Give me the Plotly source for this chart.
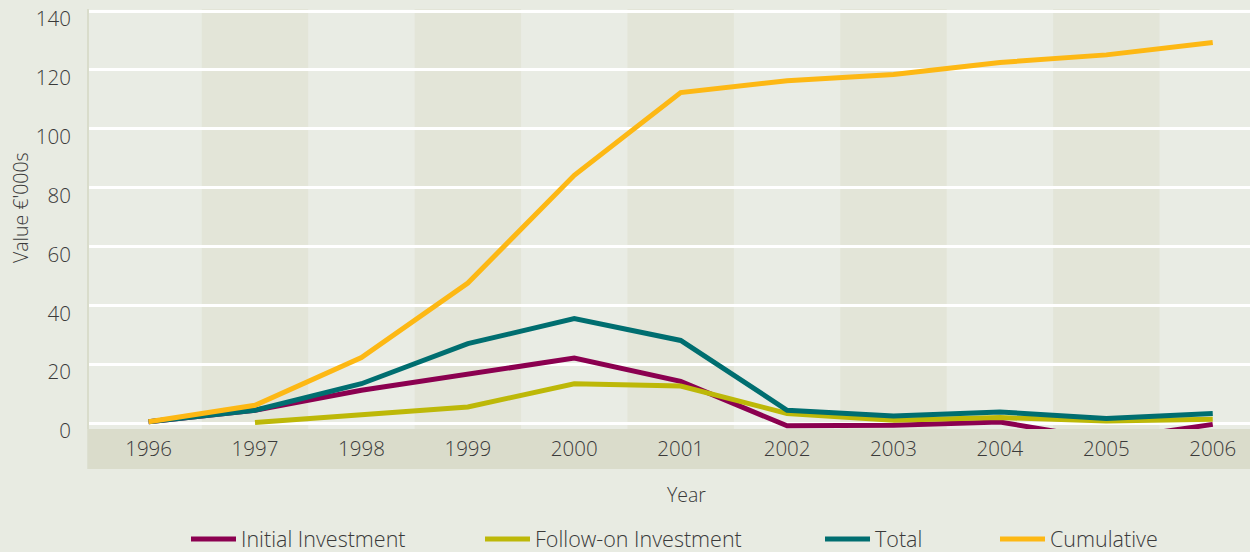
import plotly.graph_objects as go

years = [1996, 1997, 1998, 1999, 2000, 2001, 2002, 2003, 2004, 2005, 2006]
initial = [0.5, 4.4, 11.2, 16.6, 22.1, 14.2, -0.9, -0.7, 0.4, -5.7, -0.4]
follow_on = [None, 0.2, 2.7, 5.5, 13.4, 12.6, 3.3, 1.0, 1.9, 0.7, 1.3]
total = [0.5, 4.4, 13.4, 27.0, 35.5, 28.1, 4.4, 2.4, 3.8, 1.6, 3.3]
cumulative = [0.5, 6.1, 22.3, 47.6, 84.2, 112.3, 116.3, 118.4, 122.5, 125.1, 129.3]

series_names = ["Initial Investment", "Follow-on Investment", "Total", "Cumulative"]
series_values = [initial, follow_on, total, cumulative]
series_colors = ["#8b0050", "#bdb808", "#006e70", "#fdb814"]

y_ticks = [0, 20, 40, 60, 80, 100, 120, 140]

FONT = "Open Sans"
TXT = "#3a3a3a"
W, H = 1250, 552
# legend text left edges (px)
legend_text_x = [239, 533, 873, 1048]

fig = go.Figure()
for i, (name, vals, col) in enumerate(zip(series_names, series_values, series_colors)):
    lg = "legend" if i == 0 else f"legend{i+1}"
    fig.add_trace(go.Scatter(
        x=years, y=vals, name=name, mode="lines",
        line=dict(color=col, width=5), legend=lg,
    ))

PLOT_H = 420
# alternating year column bands
shapes = []
for k, yr in enumerate(years):
    if k % 2 == 1:
        shapes.append(dict(type="rect", xref="x", yref="paper", x0=yr - 0.5, x1=yr + 0.5,
                           y0=0, y1=1, fillcolor="#e3e5d8", line=dict(width=0), layer="below"))
# x-axis band below plot area
shapes.append(dict(type="rect", xref="paper", yref="paper", x0=-0.0015, x1=1.0, y0=-40 / PLOT_H, y1=0,
                   fillcolor="#dadccb", line=dict(width=0), layer="below"))

layout_legends = {}
for i, tx in enumerate(legend_text_x):
    key = "legend" if i == 0 else f"legend{i+1}"
    layout_legends[key] = dict(
        xref="container", yref="container", x=(tx - 53) / W, y=1 - 539 / H,
        xanchor="left", yanchor="middle", orientation="h",
        bgcolor="rgba(0,0,0,0)", borderwidth=0, itemwidth=45,
        font=dict(family=FONT, size=21.5, color=TXT, weight=300),
    )

tick_font = dict(family=FONT, size=20.5, color=TXT, weight=300)

fig.update_layout(
    width=W, height=H,
    margin=dict(l=89, r=0, t=9, b=H - 9 - PLOT_H, pad=0),
    paper_bgcolor="#e8ebe2",
    plot_bgcolor="#e9ece4",
    font=dict(family=FONT, size=20, color=TXT, weight=300),
    showlegend=True,
    shapes=shapes,
    xaxis=dict(
        range=[1995.44, 2006.35], tickmode="array", tickvals=years,
        ticktext=[str(y) for y in years], showgrid=False, zeroline=False,
        ticks="", ticklabelstandoff=5, tickfont=tick_font,
    ),
    yaxis=dict(
        range=[-1.98, 140.68], tickmode="array", tickvals=y_ticks,
        showgrid=True, gridcolor="#ffffff", gridwidth=2.5, zeroline=False,
        showline=True, linecolor="#d9dccb", linewidth=2,
        ticks="", ticklabelstandoff=12, ticklabelshift=8, tickfont=tick_font,
    ),
    annotations=[
        dict(text="Year", xref="paper", yref="paper", x=(686 - 89) / 1161, y=-66 / PLOT_H,
             xanchor="center", yanchor="middle", showarrow=False,
             font=dict(family=FONT, size=19.5, color=TXT, weight=300)),
        dict(text="Value €'000s", xref="paper", yref="paper", x=-69 / 1161, y=(429 - 208) / PLOT_H,
             xanchor="center", yanchor="middle", textangle=-90, showarrow=False,
             font=dict(family=FONT, size=19.5, color=TXT, weight=300)),
    ],
    **layout_legends,
)

fig.write_html("out.html", config={"displayModeBar": False},
               post_script="document.body.style.margin='0';")
